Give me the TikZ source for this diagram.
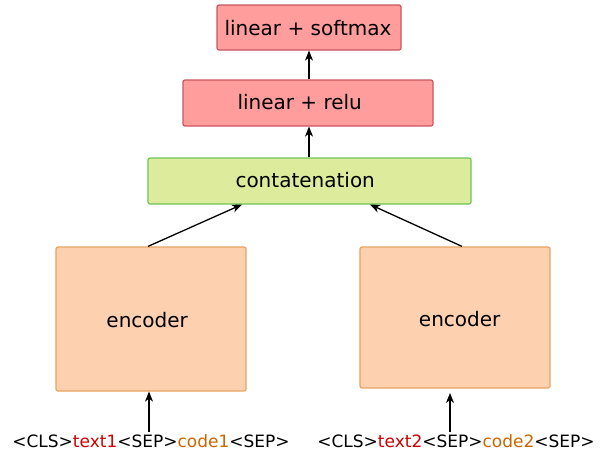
\documentclass[tikz,border=0pt]{standalone}
\usepackage{fontspec}
\setmainfont{DejaVu Sans}
\usetikzlibrary{arrows.meta}
\definecolor{redfill}{HTML}{FF9D9D}
\definecolor{redline}{HTML}{C9565F}
\definecolor{greenfill}{HTML}{DDEC9C}
\definecolor{greenline}{HTML}{6EC457}
\definecolor{orangefill}{HTML}{FDD0B0}
\definecolor{orangeline}{HTML}{E8A35E}
\definecolor{txtred}{HTML}{CC0000}
\definecolor{txtorange}{HTML}{CC6600}
\tikzset{
  x=1pt, y=-1pt,
  boxbase/.style={draw, line width=1.2pt, rounded corners=2pt, inner sep=0pt, anchor=center},
  redbox/.style={boxbase, fill=redfill, draw=redline},
  greenbox/.style={boxbase, fill=greenfill, draw=greenline},
  encbox/.style={boxbase, fill=orangefill, draw=orangeline},
  boxtext/.style={inner sep=0pt, anchor=base, font=\fontsize{20}{24}\selectfont},
  inlabel/.style={inner sep=0pt, anchor=base, font=\fontsize{17}{20}\selectfont},
  conn/.style={draw=black, line width=1.3pt, -{Stealth[length=10pt,width=8pt,inset=3pt]}}
}
\begin{document}
\begin{tikzpicture}
\useasboundingbox (0,0) rectangle (603,453);
\node[redbox, minimum width=184pt, minimum height=45pt] (soft) at (309,27.5) {};
\node[redbox, minimum width=250pt, minimum height=46pt] (relu) at (308,103) {};
\node[greenbox, minimum width=323pt, minimum height=46pt] (cat) at (309.5,181) {};
\node[encbox, minimum width=190pt, minimum height=144pt] (encL) at (151,319) {};
\node[encbox, minimum width=190pt, minimum height=141pt] (encR) at (455,317.5) {};
\node[boxtext] (softT) at (308,35) {linear + softmax};
\node[boxtext] (reluT) at (299.7,109.7) {linear + relu};
\node[boxtext] (catT) at (305.2,187.3) {contatenation};
\node[boxtext] (encLT) at (147.2,327.7) {encoder};
\node[boxtext] (encRT) at (459.7,326.7) {encoder};
\node[inlabel] (inL) at (151,447) {<CLS>\textcolor{txtred}{text1}<SEP>\textcolor{txtorange}{code1}<SEP>};
\node[inlabel] (inR) at (456,447) {<CLS>\textcolor{txtred}{text2}<SEP>\textcolor{txtorange}{code2}<SEP>};
\coordinate (catL) at (242,204.5);
\coordinate (catR) at (370,204.5);
\draw[conn] (relu.north -| soft.south) -- (soft.south);
\draw[conn] (cat.north -| soft.south) -- (relu.south -| soft.south);
\draw[conn] (encL.north -| 148,0) -- (catL);
\draw[conn] (encR.north -| 462,0) -- (catR);
\draw[conn] (149,432) -- (encL.south -| 149,0);
\draw[conn] (450,432) -- (450,393);
\end{tikzpicture}
\end{document}
